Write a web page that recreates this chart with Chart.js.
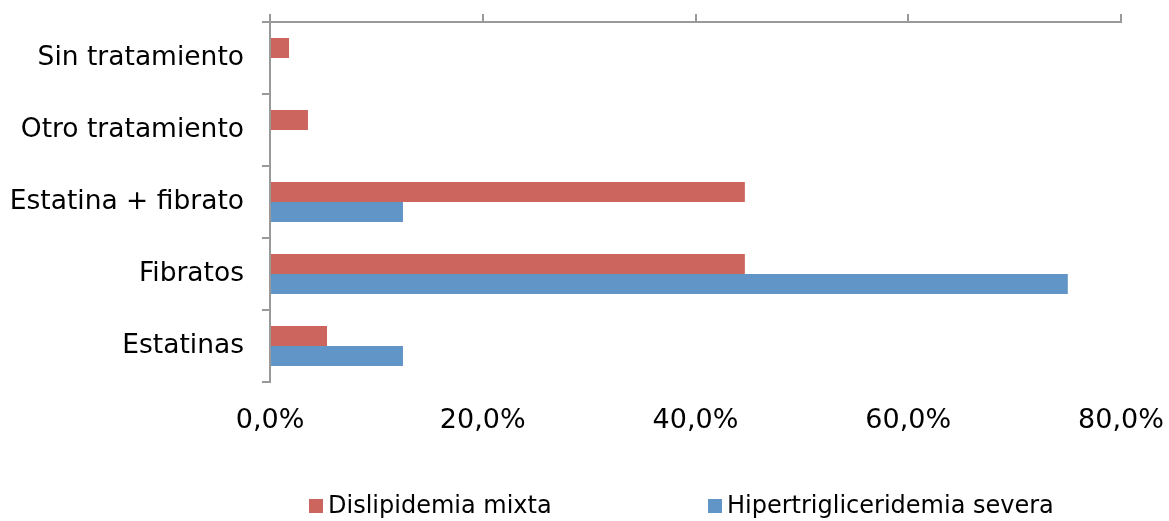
<!DOCTYPE html>
<html>
<head>
<meta charset="utf-8">
<script src="https://cdn.jsdelivr.net/npm/chart.js@4.4.1/dist/chart.umd.min.js"></script>
<style>
  html, body { margin: 0; padding: 0; background: #ffffff; }
  #wrap { width: 1169px; height: 521px; position: relative; }
</style>
</head>
<body>
<div id="wrap"><canvas id="c" width="1169" height="521"></canvas></div>
<script>
// Treatment categories, listed top to bottom
const categories = ['Sin tratamiento', 'Otro tratamiento', 'Estatina + fibrato', 'Fibratos', 'Estatinas'];
const seriesNames = ['Dislipidemia mixta', 'Hipertrigliceridemia severa'];
// Percentages per treatment
const dislipidemiaMixta = [1.79, 3.57, 44.64, 44.64, 5.36];
const hipertrigliceridemiaSevera = [0, 0, 12.5, 75.0, 12.5];
const xTickLabels = ['0,0%', '20,0%', '40,0%', '60,0%', '80,0%'];

const AXIS_GREY = '#999999';
const FONT_FAMILY = "'DejaVu Sans', Verdana, sans-serif";

// Single-row legend drawn under the axis labels
const rowLegend = {
  id: 'rowLegend',
  afterDraw(chart, args, opts) {
    const ctx = chart.ctx;
    ctx.save();
    ctx.font = opts.font;
    ctx.textBaseline = 'middle';
    ctx.textAlign = 'left';
    chart.data.datasets.forEach((ds, i) => {
      const x = opts.x[i];
      ctx.fillStyle = ds.backgroundColor;
      ctx.fillRect(x, opts.y - opts.box / 2, opts.box, opts.box);
      ctx.fillStyle = opts.color;
      ctx.fillText(ds.label, x + opts.box + opts.gap, opts.y + 1);
    });
    ctx.restore();
  }
};

new Chart(document.getElementById('c'), {
  type: 'bar',
  data: {
    labels: categories,
    datasets: [
      {
        label: seriesNames[0],
        data: dislipidemiaMixta,
        backgroundColor: '#CD655F',
        borderWidth: 0,
        categoryPercentage: 0.556,
        barPercentage: 1.0
      },
      {
        label: seriesNames[1],
        data: hipertrigliceridemiaSevera,
        backgroundColor: '#6195C8',
        borderWidth: 0,
        categoryPercentage: 0.556,
        barPercentage: 1.0
      }
    ]
  },
  options: {
    indexAxis: 'y',
    responsive: false,
    animation: false,
    devicePixelRatio: 1,
    layout: { padding: { left: 0, top: 14, right: 48, bottom: 83 } },
    plugins: {
      legend: { display: false },
      tooltip: { enabled: false },
      rowLegend: {
        x: [309, 708],
        y: 506,
        box: 14,
        gap: 5,
        font: "24px " + FONT_FAMILY,
        color: '#000000'
      }
    },
    scales: {
      x: {
        type: 'linear',
        position: 'top',
        min: 0,
        max: 80,
        ticks: { display: false, stepSize: 20 },
        grid: { drawOnChartArea: false, drawTicks: true, tickLength: 8, color: AXIS_GREY, lineWidth: 2 },
        border: { color: AXIS_GREY, width: 2 },
        afterFit(s) { s.height = 8; s.paddingLeft = 0; s.paddingRight = 0; }
      },
      x2: {
        type: 'linear',
        position: 'bottom',
        min: 0,
        max: 80,
        ticks: {
          stepSize: 20,
          padding: 15,
          color: '#000000',
          font: { family: FONT_FAMILY, size: 27 },
          maxRotation: 0,
          callback: (v, i) => xTickLabels[i]
        },
        grid: { display: false },
        border: { display: false },
        afterFit(s) { s.height = 56; s.paddingLeft = 0; s.paddingRight = 0; }
      },
      y: {
        position: 'left',
        ticks: { padding: 18, color: '#000000', font: { family: FONT_FAMILY, size: 26.5 } },
        grid: { drawOnChartArea: false, offset: true, tickLength: 8, color: AXIS_GREY, lineWidth: 2 },
        border: { color: AXIS_GREY, width: 2 },
        afterFit(s) { s.width = 270; s.paddingTop = 0; s.paddingBottom = 0; }
      }
    }
  },
  plugins: [rowLegend]
});
</script>
</body>
</html>
